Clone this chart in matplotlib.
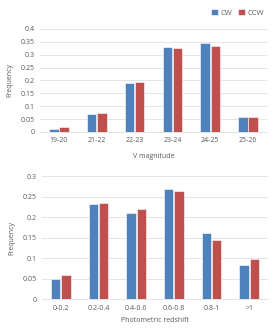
import numpy as np
import matplotlib
matplotlib.use('Agg')
import matplotlib.pyplot as plt

### Data

mag_labels = ['19-20', '21-22', '22-23', '23-24', '24-25', '25-26']
mag_cw = [0.013, 0.068, 0.190, 0.330, 0.345, 0.058]
mag_ccw = [0.017, 0.072, 0.195, 0.325, 0.335, 0.057]

z_labels = ['0-0.2', '0.2-0.4', '0.4-0.6', '0.6-0.8', '0.8-1', '>1']
z_cw = [0.048, 0.233, 0.211, 0.268, 0.160, 0.082]
z_ccw = [0.058, 0.235, 0.219, 0.263, 0.145, 0.097]

### Style

blue = '#4F81BD'
red = '#C0504D'
text_col = '#595959'
grid_col = '#D9D9D9'
fs = 5

plt.rcParams['font.family'] = ['Open Sans', 'DejaVu Sans']


def bar_panel(ax, labels, cw, ccw, ymax, step, xlabel, xpad):
    x = np.arange(len(labels))
    w = 0.25
    ax.bar(x - w / 2 - 0.01, cw, w, color=blue, edgecolor='white', linewidth=0.4, label='CW', zorder=3)
    ax.bar(x + w / 2 + 0.01, ccw, w, color=red, edgecolor='white', linewidth=0.4, label='CCW', zorder=3)
    ax.set_xlim(-0.5, len(labels) - 0.5)
    ax.set_ylim(0, ymax)
    ticks = np.arange(0, ymax + step / 2, step)
    ax.set_yticks(ticks)
    ax.set_yticklabels([f'{t:g}' for t in ticks])
    ax.set_xticks(x)
    ax.set_xticklabels(labels)
    ax.yaxis.grid(True, color=grid_col, linewidth=0.5, zorder=0)
    for s in ['top', 'right', 'left']:
        ax.spines[s].set_visible(False)
    ax.spines['bottom'].set_color(grid_col)
    ax.spines['bottom'].set_linewidth(0.5)
    ax.tick_params(length=0, labelsize=fs, colors=text_col, pad=4)
    ax.set_xlabel(xlabel, fontsize=fs, color=text_col, labelpad=xpad)
    ax.set_ylabel('Frequency', fontsize=fs, color=text_col, labelpad=5)


fig = plt.figure(figsize=(2.78, 3.33), dpi=100)

ax1 = fig.add_axes([0.144, 0.604, 0.816, 0.309])
bar_panel(ax1, mag_labels, mag_cw, mag_ccw, 0.4, 0.05, 'V magnitude', 6)
ax1.legend(loc='lower right', bbox_to_anchor=(1.0, 1.09), ncol=2, frameon=False,
           fontsize=5.5, handlelength=0.9, handleheight=0.9, handletextpad=0.3,
           columnspacing=0.8, labelcolor=text_col, borderaxespad=0)

ax2 = fig.add_axes([0.151, 0.102, 0.813, 0.369])
bar_panel(ax2, z_labels, z_cw, z_ccw, 0.3, 0.05, 'Photometric redshift', 4)

fig.savefig('out.png', dpi=100, facecolor='white')
